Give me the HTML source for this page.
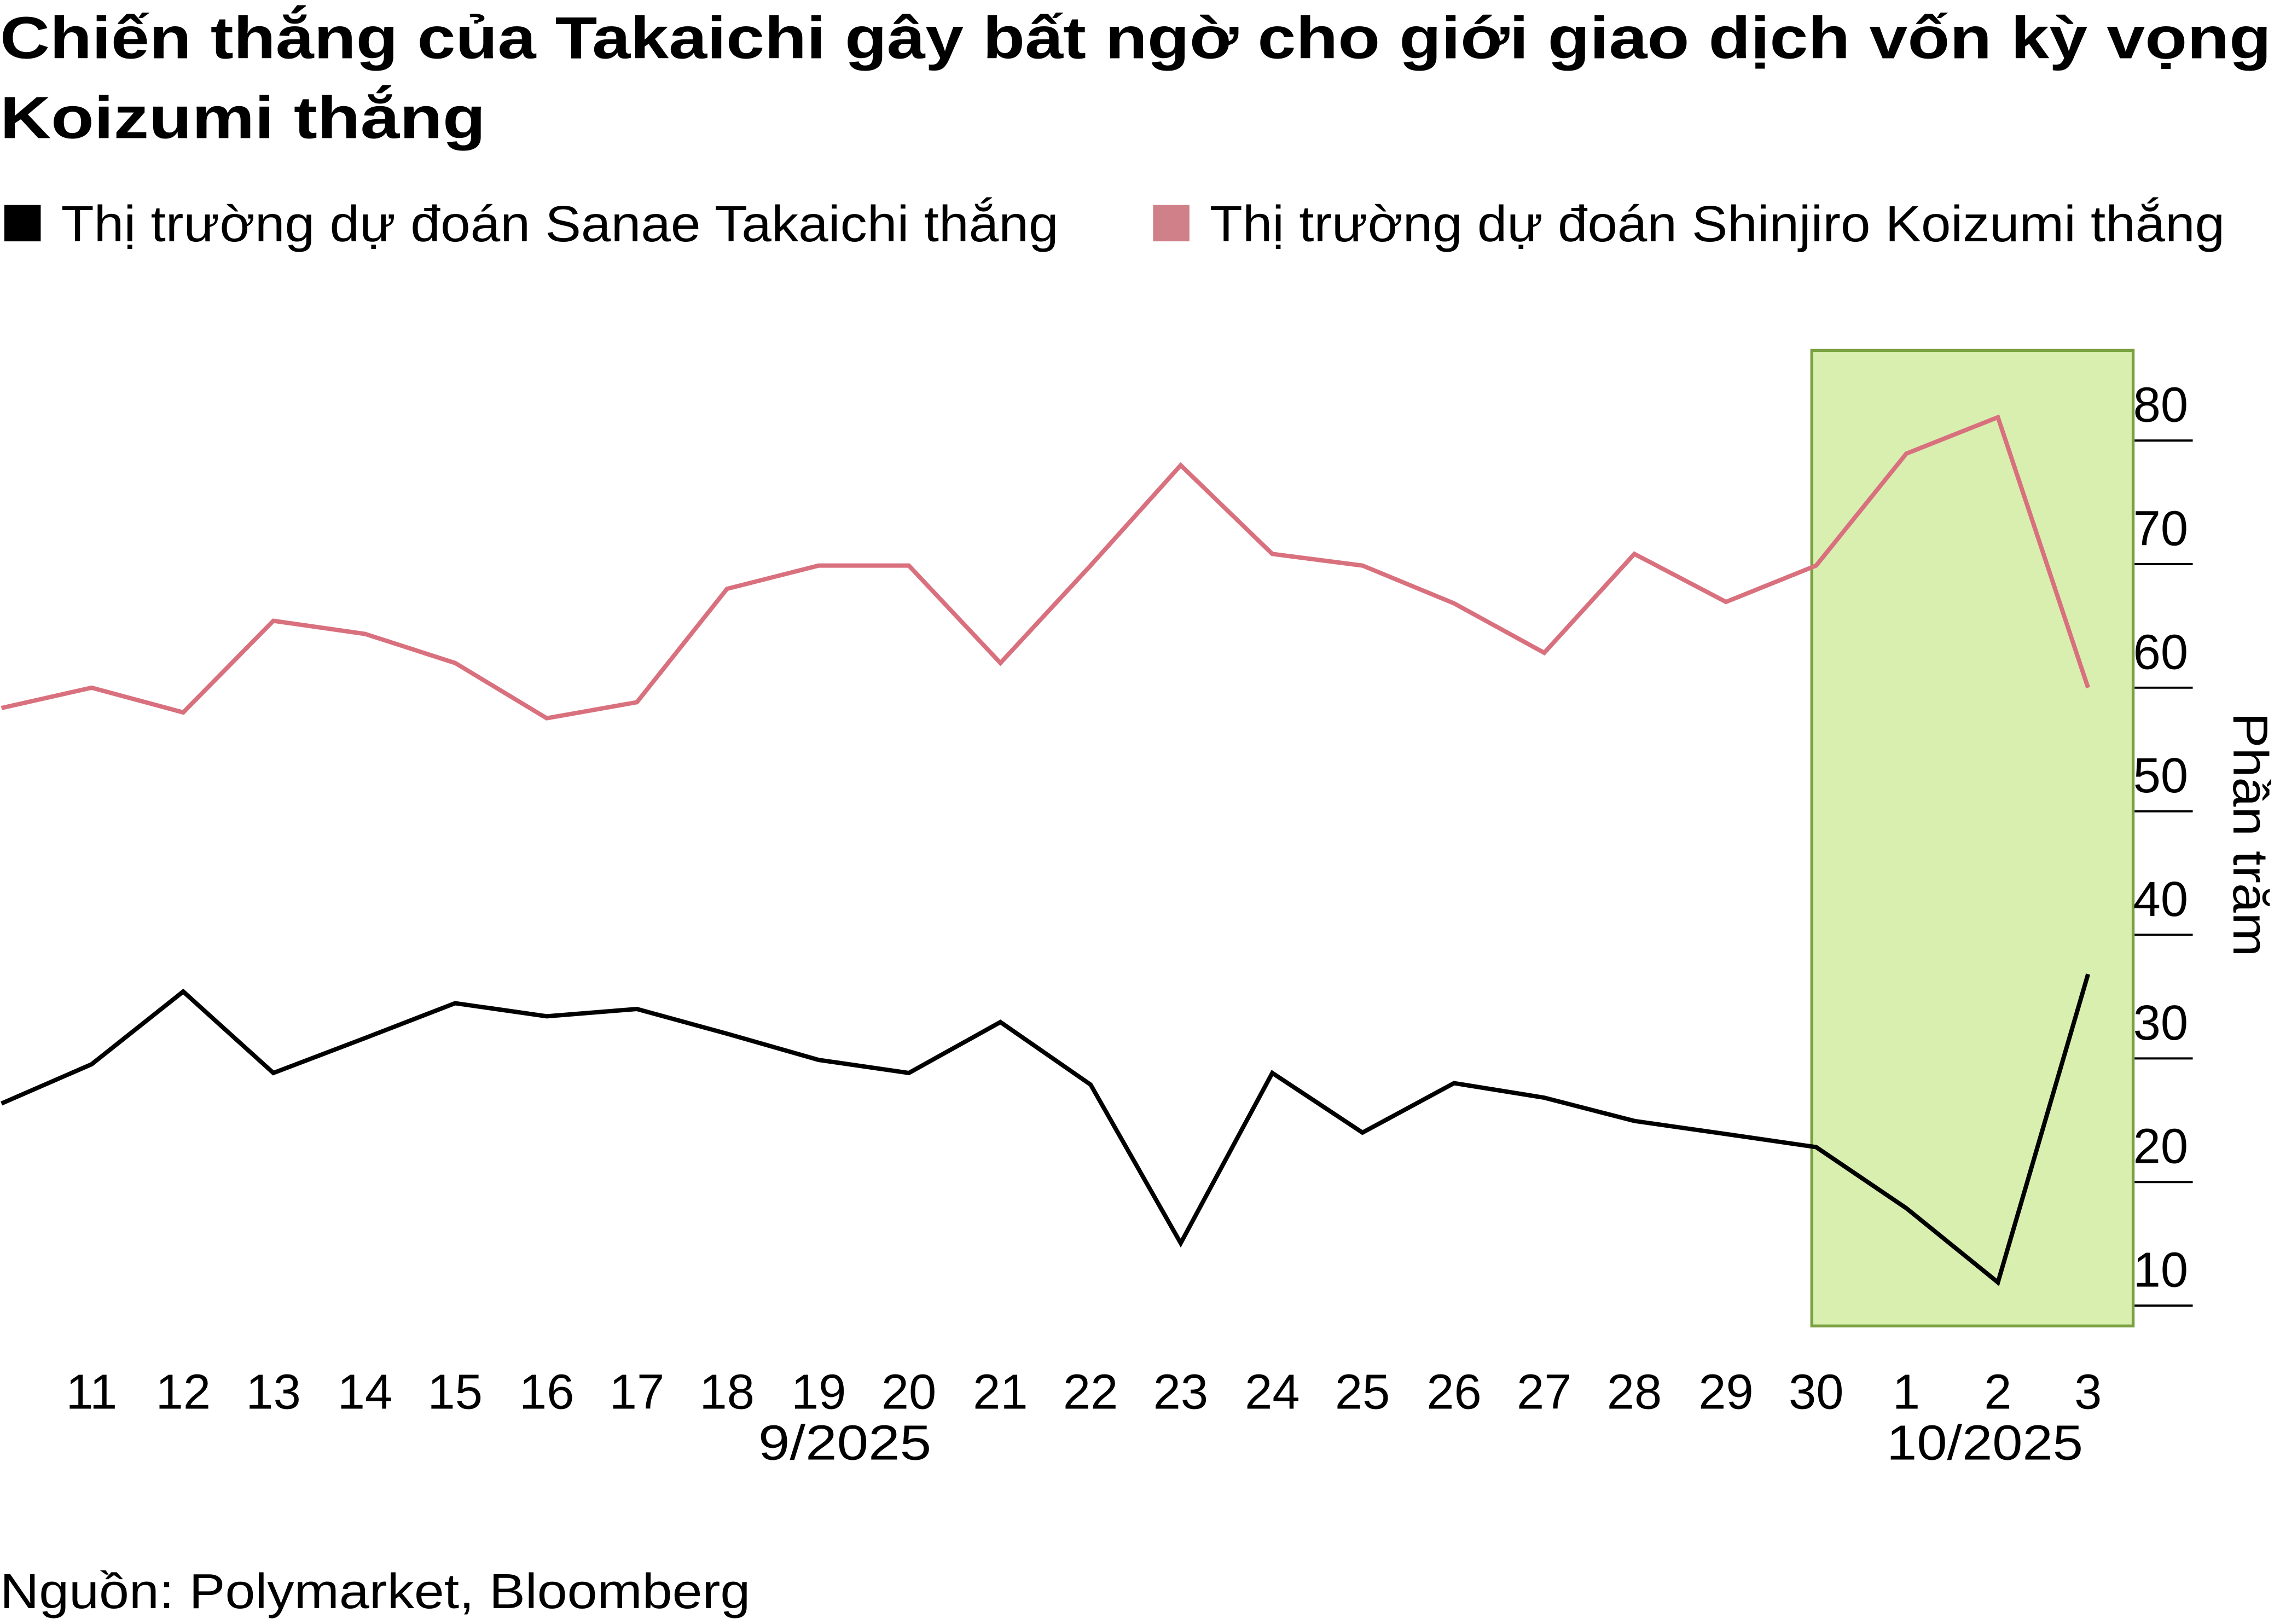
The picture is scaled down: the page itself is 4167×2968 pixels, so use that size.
<!DOCTYPE html>
<html><head><meta charset="utf-8"><style>
html,body{margin:0;padding:0;background:#fff;}
svg{display:block;}
text{font-family:"Liberation Sans",sans-serif;fill:#000;}
</style></head><body>
<svg width="4167" height="2968" viewBox="0 0 1568 1117" preserveAspectRatio="none" xmlns="http://www.w3.org/2000/svg">
<rect width="1568" height="1117" fill="#fff"/>
<text x="0" y="40" font-size="41" font-weight="bold" textLength="1562" lengthAdjust="spacingAndGlyphs">Chiến thắng của Takaichi gây bất ngờ cho giới giao dịch vốn kỳ vọng</text>
<text x="0" y="95" font-size="41" font-weight="bold" textLength="334" lengthAdjust="spacingAndGlyphs">Koizumi thắng</text>
<rect x="3" y="141" width="25" height="25" fill="#000"/>
<text x="42" y="166" font-size="35" textLength="686" lengthAdjust="spacingAndGlyphs">Thị trường dự đoán Sanae Takaichi thắng</text>
<rect x="793" y="141" width="25" height="25" fill="#d08088"/>
<text x="832" y="166" font-size="35" textLength="698" lengthAdjust="spacingAndGlyphs">Thị trường dự đoán Shinjiro Koizumi thắng</text>
<rect x="1246" y="241" width="221" height="671" fill="#d8efb0" stroke="#7aa040" stroke-width="2"/>
<g stroke="#000" stroke-width="1.5">
<line x1="1468" y1="303" x2="1508" y2="303"/><line x1="1468" y1="388" x2="1508" y2="388"/>
<line x1="1468" y1="473" x2="1508" y2="473"/><line x1="1468" y1="558" x2="1508" y2="558"/>
<line x1="1468" y1="643" x2="1508" y2="643"/><line x1="1468" y1="728" x2="1508" y2="728"/>
<line x1="1468" y1="813" x2="1508" y2="813"/><line x1="1468" y1="898" x2="1508" y2="898"/>
</g>
<g font-size="34">
<text x="1467" y="290">80</text><text x="1467" y="375">70</text><text x="1467" y="460">60</text>
<text x="1467" y="545">50</text><text x="1467" y="630">40</text><text x="1467" y="715">30</text>
<text x="1467" y="800">20</text><text x="1467" y="885">10</text>
</g>
<text transform="translate(1536,574) rotate(90)" font-size="34" text-anchor="middle" textLength="168" lengthAdjust="spacingAndGlyphs">Phần trăm</text>
<polyline fill="none" stroke="#d9707e" stroke-width="3" points="1,487 63,473 126,490 188,427 251,436 313,456 376,494 438,483 500,405 563,389 625,389 688,456 750,389 812,320 875,381 937,389 1000,415 1062,449 1124,381 1187,414 1249,389 1311,312 1374,287 1436,473"/>
<polyline fill="none" stroke="#000" stroke-width="3" points="1,759 63,732 126,682 188,738 251,714 313,690 376,699 438,694 500,711 563,729 625,738 688,703 750,746 812,855 875,738 937,779 1000,745 1062,755 1124,771 1187,780 1249,789 1311,831 1374,882 1436,670"/>
<g font-size="34" text-anchor="middle">
<text x="63" y="969">11</text><text x="126" y="969">12</text><text x="188" y="969">13</text>
<text x="251" y="969">14</text><text x="313" y="969">15</text><text x="376" y="969">16</text>
<text x="438" y="969">17</text><text x="500" y="969">18</text><text x="563" y="969">19</text>
<text x="625" y="969">20</text><text x="688" y="969">21</text><text x="750" y="969">22</text>
<text x="812" y="969">23</text><text x="875" y="969">24</text><text x="937" y="969">25</text>
<text x="1000" y="969">26</text><text x="1062" y="969">27</text><text x="1124" y="969">28</text>
<text x="1187" y="969">29</text><text x="1249" y="969">30</text><text x="1311" y="969">1</text>
<text x="1374" y="969">2</text><text x="1436" y="969">3</text>
<text x="581" y="1004" textLength="119" lengthAdjust="spacingAndGlyphs">9/2025</text><text x="1365" y="1004" textLength="135" lengthAdjust="spacingAndGlyphs">10/2025</text>
</g>
<text x="0" y="1106" font-size="34" textLength="516" lengthAdjust="spacingAndGlyphs">Nguồn: Polymarket, Bloomberg</text>
</svg>
</body></html>
